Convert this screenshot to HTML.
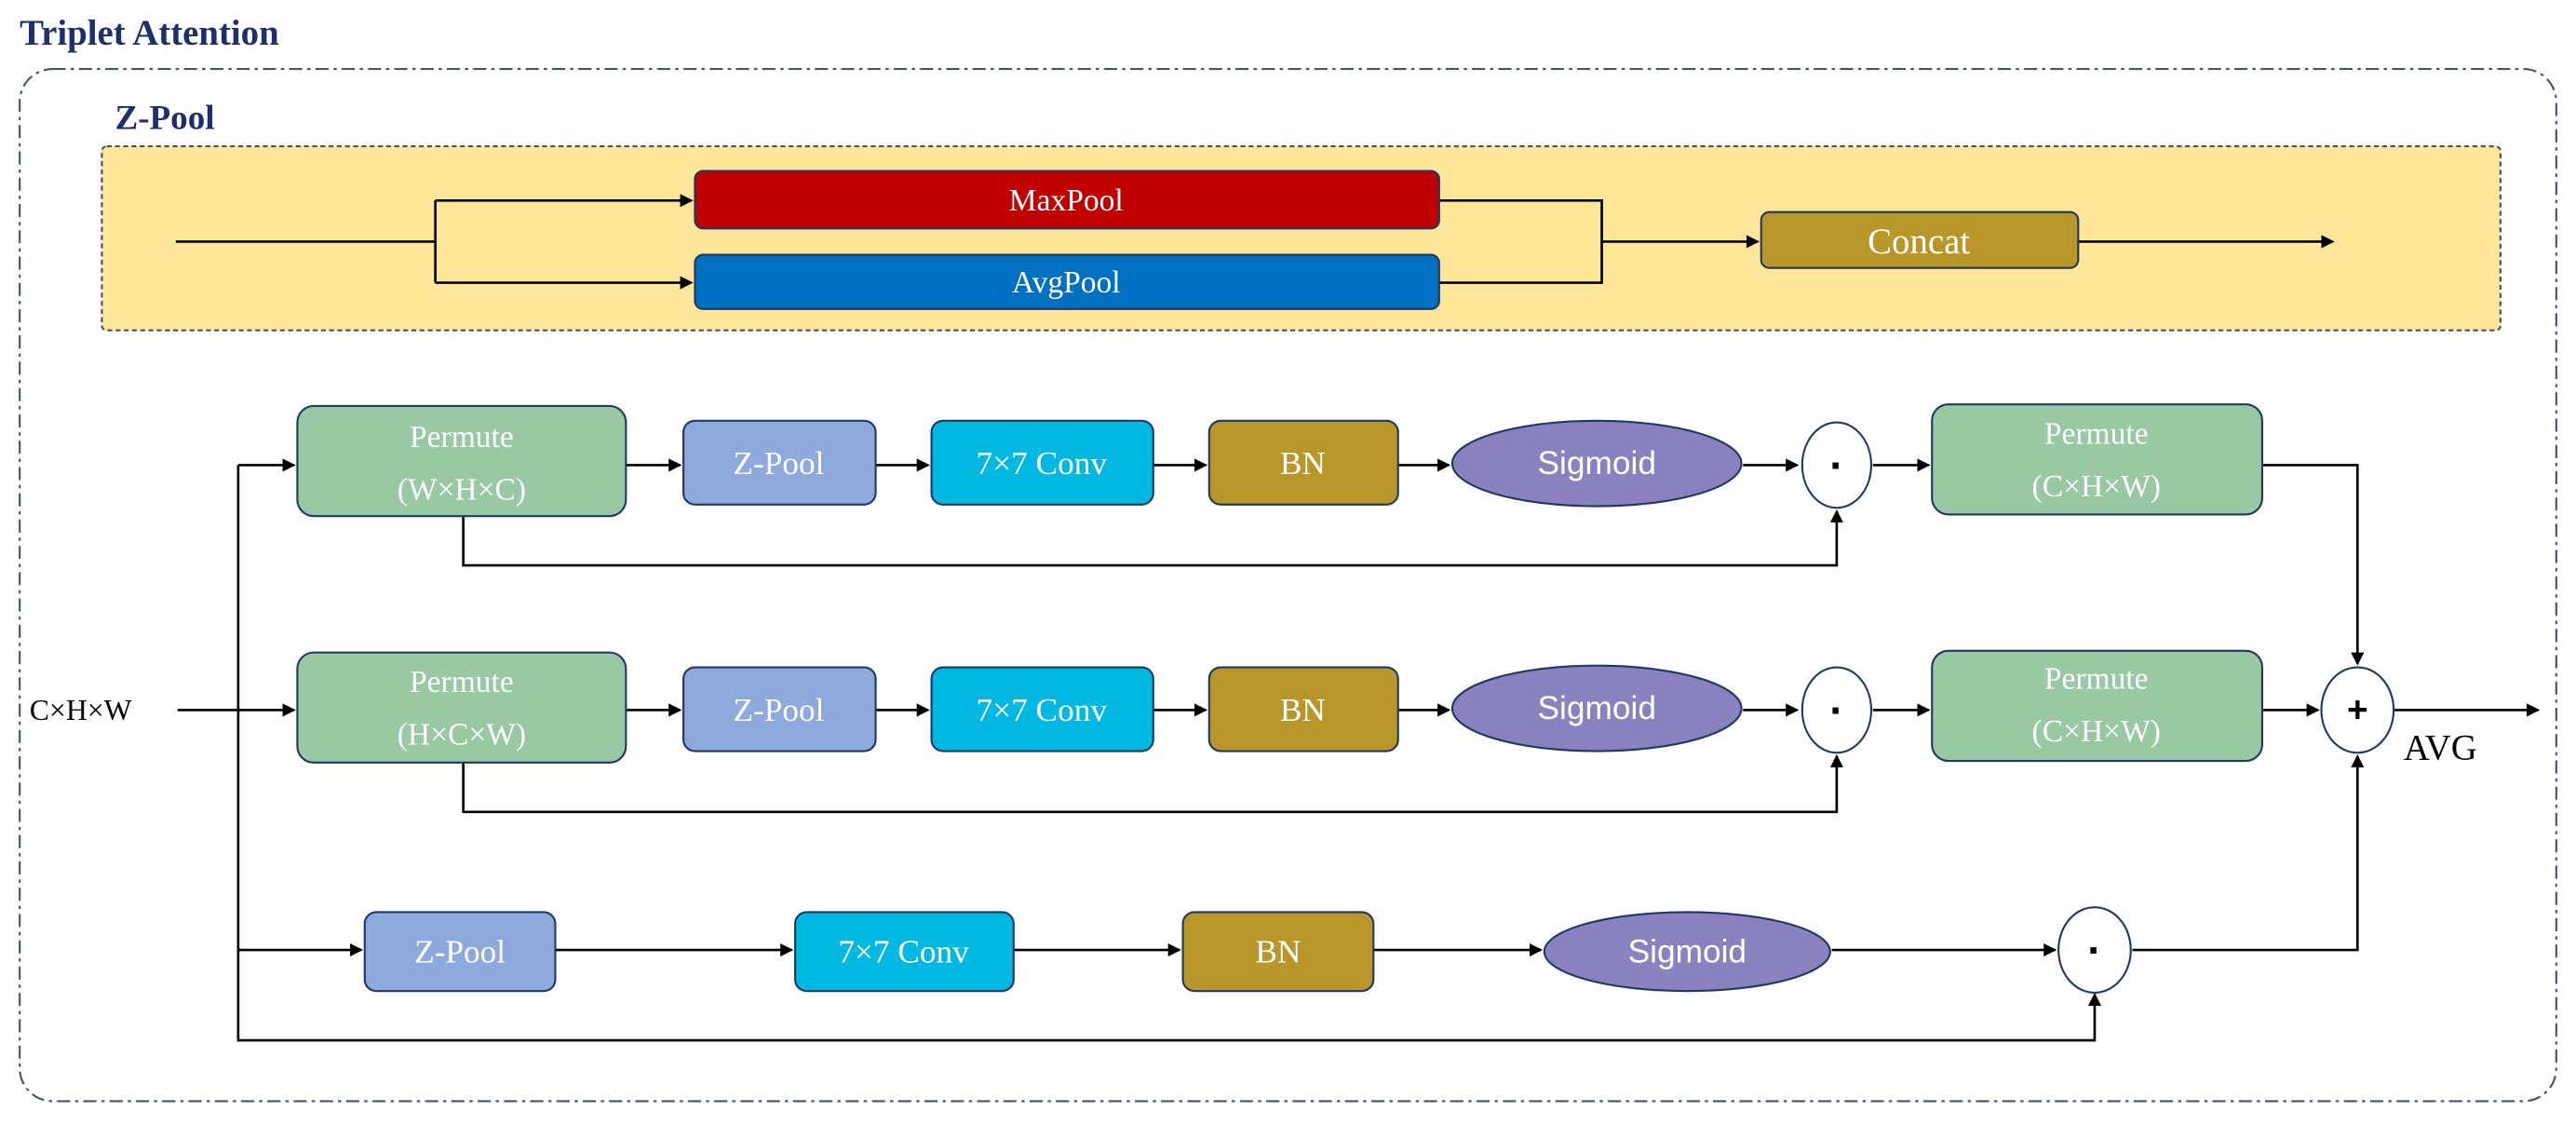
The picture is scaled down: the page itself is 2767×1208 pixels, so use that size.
<!DOCTYPE html>
<html><head><meta charset="utf-8"><style>
html,body{margin:0;padding:0;background:#fff;}
svg{display:block;}
.t{font-family:"Liberation Serif",serif;fill:#fff;text-anchor:middle;dominant-baseline:central;}
.s{font-family:"Liberation Sans",sans-serif;fill:#fff;text-anchor:middle;dominant-baseline:central;}
.ln{stroke:#000;stroke-width:1.5;fill:none;}
.bx{stroke:#1F3864;stroke-width:1.2;}
.dot{font-family:"Liberation Sans",sans-serif;font-weight:bold;font-size:26px;text-anchor:middle;dominant-baseline:central;}
</style></head><body>
<svg width="2767" height="1208" viewBox="0 0 1568 684.5" preserveAspectRatio="none" xmlns="http://www.w3.org/2000/svg">
<defs>
<marker id="a" markerWidth="8" markerHeight="8" refX="7" refY="4" orient="auto" markerUnits="userSpaceOnUse"><path d="M0,0 L8,4 L0,8 z" fill="#000"/></marker>
</defs>
<text x="12" y="20" style="font-family:'Liberation Serif',serif;font-weight:bold;font-size:22px;fill:#1F2F6B;dominant-baseline:central">Triplet Attention</text>
<rect x="12" y="42" width="1544" height="628" rx="20" fill="none" stroke="#44546A" stroke-width="1.2" stroke-dasharray="8,3,2,3"/>
<text x="70" y="72" style="font-family:'Liberation Serif',serif;font-weight:bold;font-size:21px;fill:#1F2F6B;dominant-baseline:central">Z-Pool</text>
<rect x="62" y="89" width="1460" height="112" rx="3" fill="#FFE699" stroke="#44546A" stroke-width="1.2" stroke-dasharray="3,2"/>

<path class="ln" d="M107,147 H265 M265,122 V172" />
<path class="ln" d="M265,122 H421" marker-end="url(#a)"/>
<path class="ln" d="M265,172 H421" marker-end="url(#a)"/>
<path class="ln" d="M876,122 H975 V172 H876 M975,147 H1070" marker-end="url(#a)"/>
<path class="ln" d="M1265,147 H1420" marker-end="url(#a)"/>
<rect class="bx" x="423" y="104" width="453" height="35" rx="5" fill="#C00000"/>
<text class="t" x="649" y="122" font-size="19">MaxPool</text>
<rect class="bx" x="423" y="155" width="453" height="33" rx="5" fill="#0070C0"/>
<text class="t" x="649" y="172" font-size="19">AvgPool</text>
<rect class="bx" x="1072" y="129" width="193" height="34" rx="5" fill="#B8962A"/>
<text class="t" x="1168" y="147" font-size="22">Concat</text>

<path class="ln" d="M108,432 H179" marker-end="url(#a)"/>
<path class="ln" d="M145,283 H179" marker-end="url(#a)"/>
<path class="ln" d="M145,283 V633 H1275 V605" marker-end="url(#a)"/>
<path class="ln" d="M145,578 H220" marker-end="url(#a)"/>

<path class="ln" d="M381,283 H414" marker-end="url(#a)"/>
<path class="ln" d="M533,283 H565" marker-end="url(#a)"/>
<path class="ln" d="M702,283 H734" marker-end="url(#a)"/>
<path class="ln" d="M851,283 H882" marker-end="url(#a)"/>
<path class="ln" d="M1061,283 H1094" marker-end="url(#a)"/>
<path class="ln" d="M1140,283 H1174" marker-end="url(#a)"/>
<path class="ln" d="M282,314 V344 H1118 V311" marker-end="url(#a)"/>
<path class="ln" d="M1377,283 H1435 V404" marker-end="url(#a)"/>
<path class="ln" d="M381,432 H414" marker-end="url(#a)"/>
<path class="ln" d="M533,432 H565" marker-end="url(#a)"/>
<path class="ln" d="M702,432 H734" marker-end="url(#a)"/>
<path class="ln" d="M851,432 H882" marker-end="url(#a)"/>
<path class="ln" d="M1061,432 H1094" marker-end="url(#a)"/>
<path class="ln" d="M1140,432 H1174" marker-end="url(#a)"/>
<path class="ln" d="M282,464 V494 H1118 V460" marker-end="url(#a)"/>
<path class="ln" d="M1377,432 H1411" marker-end="url(#a)"/>
<path class="ln" d="M1457,432 H1545" marker-end="url(#a)"/>
<path class="ln" d="M338,578 H482" marker-end="url(#a)"/>
<path class="ln" d="M617,578 H718" marker-end="url(#a)"/>
<path class="ln" d="M836,578 H938" marker-end="url(#a)"/>
<path class="ln" d="M1115,578 H1251" marker-end="url(#a)"/>
<path class="ln" d="M1298,578 H1435 V460" marker-end="url(#a)"/>

<text x="18" y="432" style="font-family:'Liberation Serif',serif;font-size:18px;fill:#000;dominant-baseline:central">C×H×W</text>
<text x="1463" y="455" style="font-family:'Liberation Serif',serif;font-size:22px;fill:#000;dominant-baseline:central">AVG</text>

<rect class="bx" x="181" y="247" width="200" height="67" rx="10" fill="#98C9A3"/>
<text class="t" x="281" y="266" font-size="19">Permute</text>
<text class="t" x="281" y="298" font-size="19">(W×H×C)</text>
<rect class="bx" x="416" y="256" width="117" height="51" rx="7" fill="#8EA9DB"/>
<text class="t" x="474" y="282" font-size="20">Z-Pool</text>
<rect class="bx" x="567" y="256" width="135" height="51" rx="7" fill="#00B8E0"/>
<text class="t" x="634" y="282" font-size="20">7×7 Conv</text>
<rect class="bx" x="736" y="256" width="115" height="51" rx="7" fill="#B8962A"/>
<text class="t" x="793" y="282" font-size="20">BN</text>
<ellipse class="bx" cx="972" cy="282" rx="88" ry="26" fill="#8A82BF"/>
<text class="s" x="972" y="282" font-size="20">Sigmoid</text>
<ellipse class="bx" cx="1118" cy="283" rx="21" ry="26" fill="#fff"/>
<text class="dot" x="1118" y="283">·</text>
<rect class="bx" x="1176" y="246" width="201" height="67" rx="10" fill="#98C9A3"/>
<text class="t" x="1276" y="264" font-size="19">Permute</text>
<text class="t" x="1276" y="296" font-size="19">(C×H×W)</text>

<rect class="bx" x="181" y="397" width="200" height="67" rx="10" fill="#98C9A3"/>
<text class="t" x="281" y="415" font-size="19">Permute</text>
<text class="t" x="281" y="447" font-size="19">(H×C×W)</text>
<rect class="bx" x="416" y="406" width="117" height="51" rx="7" fill="#8EA9DB"/>
<text class="t" x="474" y="432" font-size="20">Z-Pool</text>
<rect class="bx" x="567" y="406" width="135" height="51" rx="7" fill="#00B8E0"/>
<text class="t" x="634" y="432" font-size="20">7×7 Conv</text>
<rect class="bx" x="736" y="406" width="115" height="51" rx="7" fill="#B8962A"/>
<text class="t" x="793" y="432" font-size="20">BN</text>
<ellipse class="bx" cx="972" cy="431" rx="88" ry="26" fill="#8A82BF"/>
<text class="s" x="972" y="431" font-size="20">Sigmoid</text>
<ellipse class="bx" cx="1118" cy="432" rx="21" ry="26" fill="#fff"/>
<text class="dot" x="1118" y="432">·</text>
<rect class="bx" x="1176" y="396" width="201" height="67" rx="10" fill="#98C9A3"/>
<text class="t" x="1276" y="413" font-size="19">Permute</text>
<text class="t" x="1276" y="445" font-size="19">(C×H×W)</text>
<ellipse class="bx" cx="1435" cy="432" rx="22" ry="26" fill="#fff"/>
<text x="1435" y="432" style="font-family:'Liberation Sans',sans-serif;font-weight:bold;font-size:22px;text-anchor:middle;dominant-baseline:central">+</text>

<rect class="bx" x="222" y="555" width="116" height="48" rx="7" fill="#8EA9DB"/>
<text class="t" x="280" y="579" font-size="20">Z-Pool</text>
<rect class="bx" x="484" y="555" width="133" height="48" rx="7" fill="#00B8E0"/>
<text class="t" x="550" y="579" font-size="20">7×7 Conv</text>
<rect class="bx" x="720" y="555" width="116" height="48" rx="7" fill="#B8962A"/>
<text class="t" x="778" y="579" font-size="20">BN</text>
<ellipse class="bx" cx="1027" cy="579" rx="87" ry="24" fill="#8A82BF"/>
<text class="s" x="1027" y="579" font-size="20">Sigmoid</text>
<ellipse class="bx" cx="1275" cy="578" rx="22" ry="26" fill="#fff"/>
<text class="dot" x="1275" y="578">·</text>
</svg>
</body></html>
